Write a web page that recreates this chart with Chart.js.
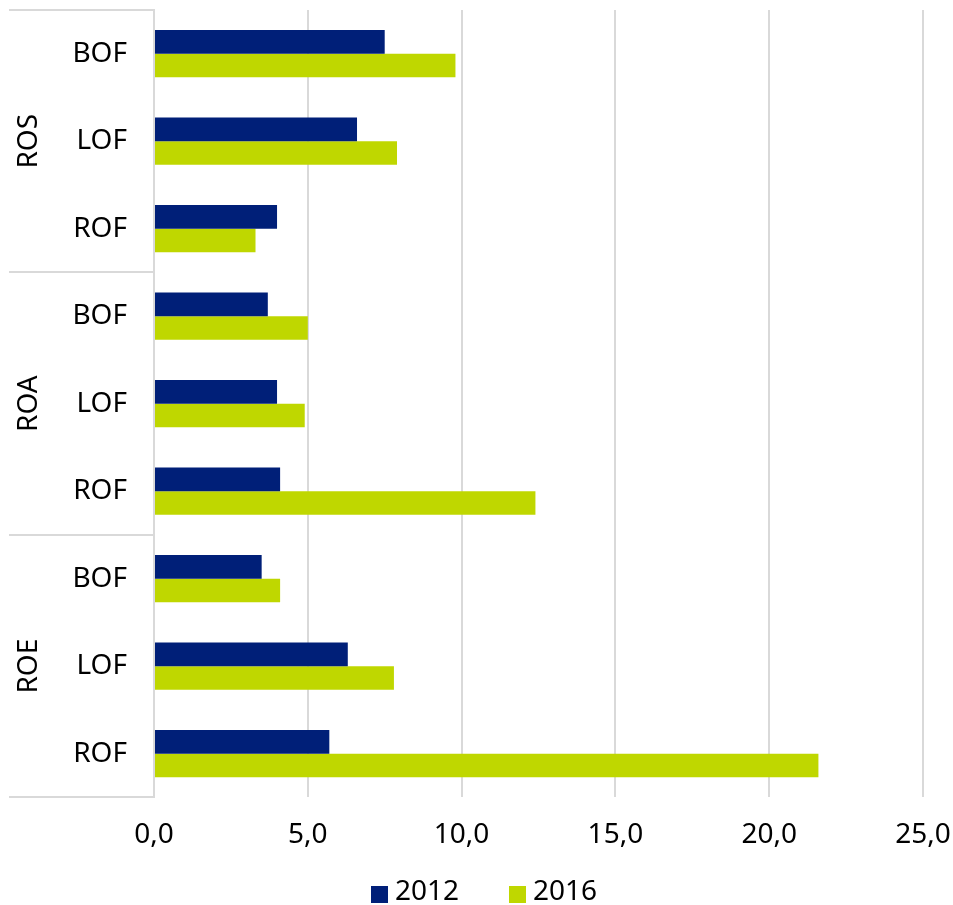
<!DOCTYPE html>
<html>
<head>
<meta charset="utf-8">
<script src="https://cdn.jsdelivr.net/npm/chart.js@4"></script>
<style>
  html, body { margin: 0; padding: 0; background: #fff; }
  #wrap { width: 953px; height: 905px; }
</style>
</head>
<body>
<div id="wrap"><canvas id="graph-data" width="953" height="905"></canvas></div>
<script>
const groups = ['ROS', 'ROA', 'ROE'];
const subLabels = ['BOF', 'LOF', 'ROF', 'BOF', 'LOF', 'ROF', 'BOF', 'LOF', 'ROF'];
const values2012 = [7.5, 6.6, 4.0, 3.7, 4.0, 4.1, 3.5, 6.3, 5.7];
const values2016 = [9.8, 7.9, 3.3, 5.0, 4.9, 12.4, 4.1, 7.8, 21.6];
const xTicks = [0, 5, 10, 15, 20, 25];

const gridColor = '#d9d9d9';
const fontSize = 28;

// separators + rotated group names on the left, placed from the y scale,
// and the legend at the bottom (the built-in one can't sit this low)
const groupAxis = {
  id: 'groupAxis',
  afterDraw(chart) {
    const c = chart.ctx;
    const y = chart.scales.y;
    const area = chart.chartArea;
    const left = 9;
    const per = subLabels.length / groups.length;

    const edge = i => {
      if (i <= 0) return y.getPixelForValue(0) - (y.getPixelForValue(1) - y.getPixelForValue(0)) / 2;
      if (i >= subLabels.length) {
        const n = subLabels.length - 1;
        return y.getPixelForValue(n) + (y.getPixelForValue(n) - y.getPixelForValue(n - 1)) / 2;
      }
      return (y.getPixelForValue(i - 1) + y.getPixelForValue(i)) / 2;
    };

    c.save();
    c.strokeStyle = gridColor;
    c.lineWidth = 2;
    for (let g = 0; g <= groups.length; g++) {
      const py = Math.round(edge(g * per));
      c.beginPath();
      c.moveTo(left, py);
      c.lineTo(area.left, py);
      c.stroke();
    }

    c.fillStyle = '#000';
    c.font = fontSize + 'px "Noto Sans"';
    c.textAlign = 'center';
    c.textBaseline = 'middle';
    groups.forEach((g, i) => {
      const mid = (edge(i * per) + edge((i + 1) * per)) / 2;
      c.save();
      c.translate(29, mid);
      c.rotate(-Math.PI / 2);
      c.fillText(g, 0, 0);
      c.restore();
    });

    // legend
    c.textAlign = 'left';
    chart.data.datasets.forEach((ds, i) => {
      const lx = 371 + i * 138;
      c.fillStyle = ds.backgroundColor;
      c.fillRect(lx, 886, 17, 17);
      c.fillStyle = '#000';
      c.fillText(ds.label, lx + 24, 892);
    });
    c.restore();
  }
};

Chart.defaults.font.size = fontSize;
Chart.defaults.font.family = '"Noto Sans", sans-serif';
Chart.defaults.color = '#000';

new Chart(document.getElementById('graph-data'), {
  type: 'bar',
  plugins: [groupAxis],
  data: {
    labels: subLabels,
    datasets: [
      {
        label: '2012',
        data: values2012,
        backgroundColor: '#001f78',
        categoryPercentage: 0.54,
        barPercentage: 1,
      },
      {
        label: '2016',
        data: values2016,
        backgroundColor: '#bfd700',
        categoryPercentage: 0.54,
        barPercentage: 1,
      }
    ]
  },
  options: {
    indexAxis: 'y',
    responsive: false,
    devicePixelRatio: 1,
    animation: false,
    layout: {
      padding: { left: 9, top: 10, right: 30, bottom: 32 }
    },
    plugins: {
      tooltip: { enabled: false },
      legend: { display: false }
    },
    scales: {
      x: {
        min: xTicks[0],
        max: xTicks[xTicks.length - 1],
        afterBuildTicks: s => { s.ticks = xTicks.map(v => ({ value: v })); },
        afterFit: s => { s.paddingLeft = 0; s.paddingRight = 0; },
        ticks: {
          padding: 21,
          callback: v => v.toFixed(1).replace('.', ','),
        },
        grid: {
          color: gridColor,
          lineWidth: 2,
          drawTicks: false,
        },
        border: { display: false }
      },
      y: {
        afterFit: s => { s.width = 145; s.paddingTop = 0; s.paddingBottom = 0; },
        ticks: { padding: 19 },
        grid: { display: false },
        border: { color: gridColor, width: 2 }
      }
    }
  }
});
</script>
</body>
</html>
